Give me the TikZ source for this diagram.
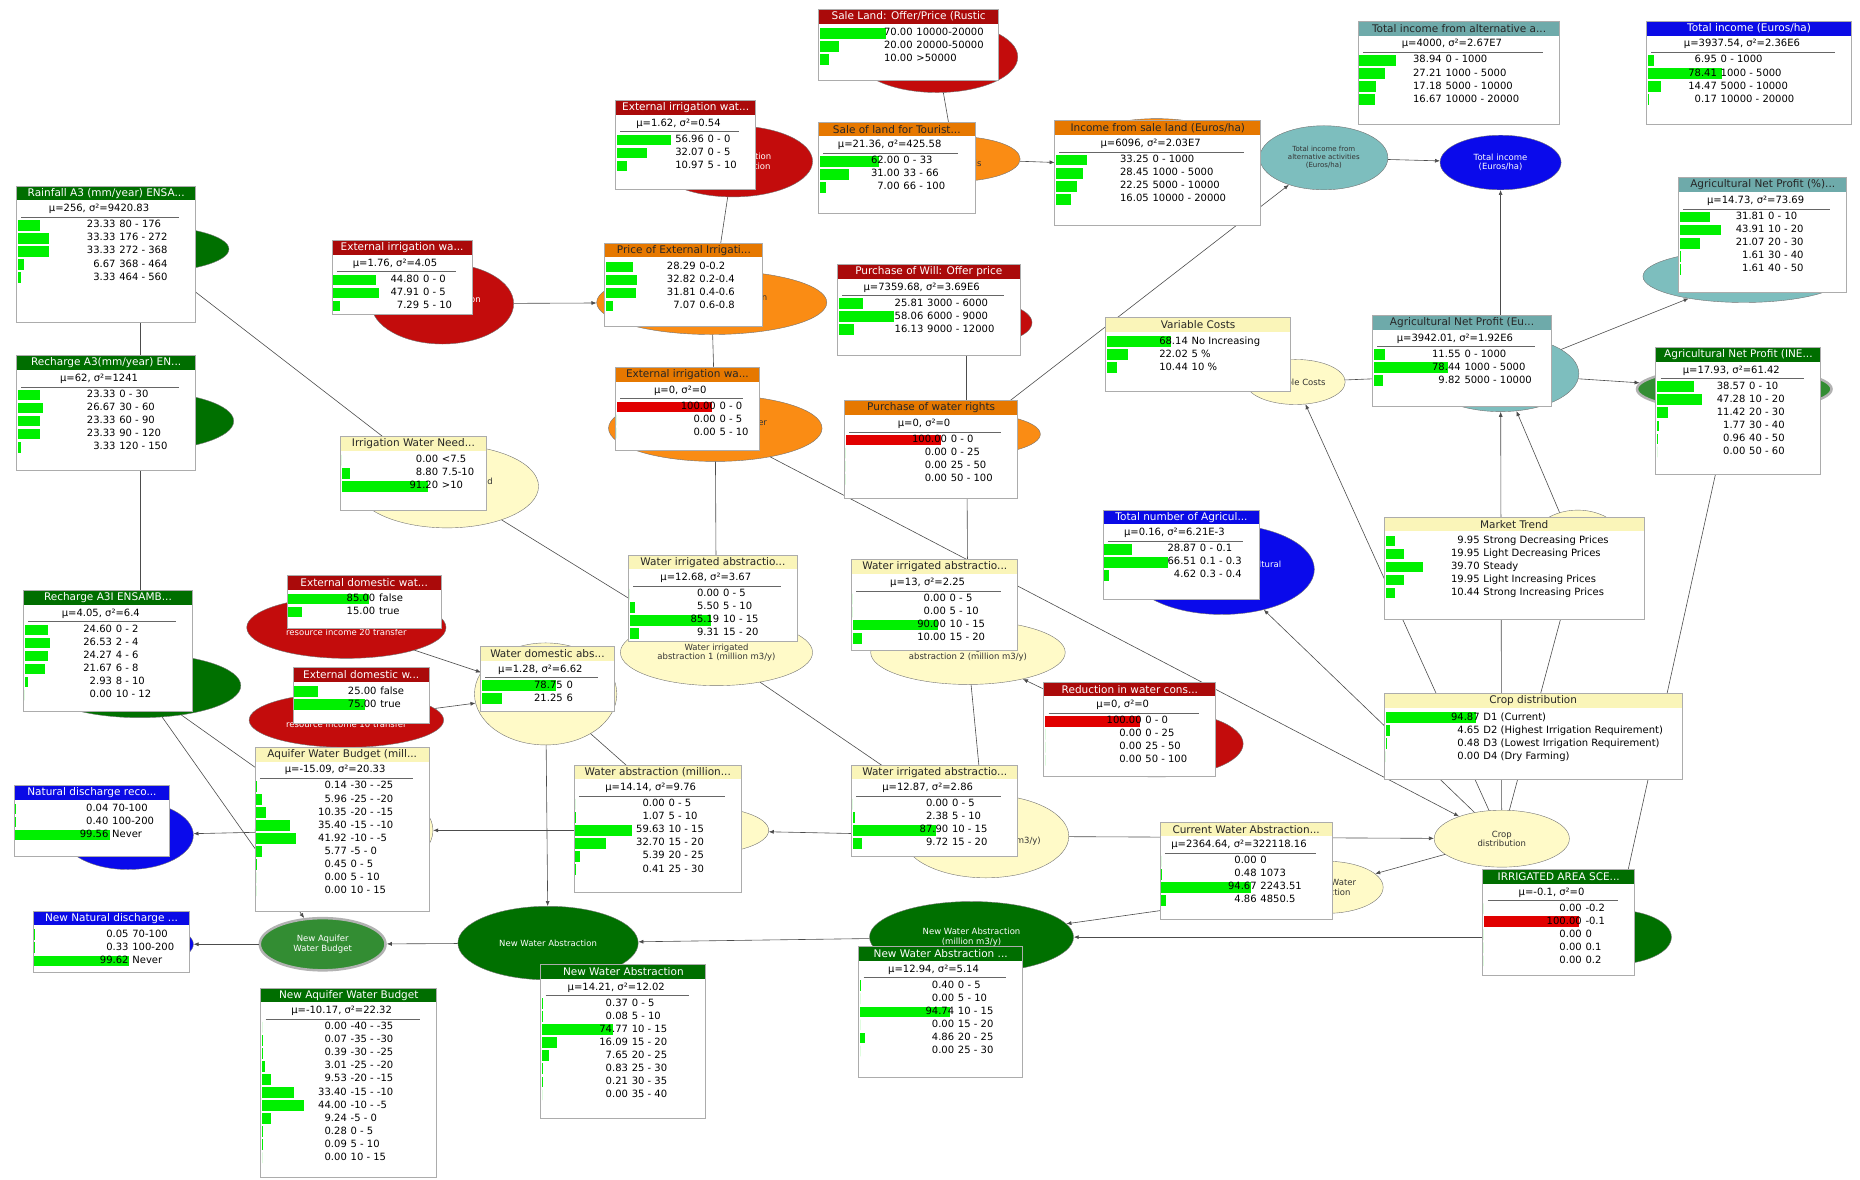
\documentclass[tikz,border=0pt]{standalone}
\usepackage{fontspec}
\setmainfont{DejaVu Sans}
\usetikzlibrary{shapes.geometric, arrows.meta}

\definecolor{nred}{RGB}{195,12,12}
\definecolor{norange}{RGB}{250,140,20}
\definecolor{nyellow}{RGB}{255,250,200}
\definecolor{nteal}{RGB}{125,190,190}
\definecolor{nblue}{RGB}{10,10,235}
\definecolor{ngreen}{RGB}{0,112,0}
\definecolor{tred}{RGB}{170,10,10}
\definecolor{torange}{RGB}{230,120,0}
\definecolor{tyellow}{RGB}{250,245,185}
\definecolor{tteal}{RGB}{110,170,170}
\definecolor{tblue}{RGB}{10,10,230}
\definecolor{tgreen}{RGB}{0,110,0}
\definecolor{bargreen}{RGB}{0,240,0}
\definecolor{barred}{RGB}{225,0,0}

\tikzset{
  redbar/.style={fill=tred}, redbar text/.style={text=white},
  orangebar/.style={fill=torange}, orangebar text/.style={text=black!85},
  yellowbar/.style={fill=tyellow}, yellowbar text/.style={text=black!85},
  tealbar/.style={fill=tteal}, tealbar text/.style={text=black!85},
  bluebar/.style={fill=tblue}, bluebar text/.style={text=white},
  greenbar/.style={fill=tgreen}, greenbar text/.style={text=white},
  monframe/.style={draw=gray!65, line width=1pt},
  montitle/.style={inner sep=0pt, font=\fontsize{10.5}{11}\selectfont},
  monval/.style={inner sep=0.5pt, text height=7pt, text depth=2pt,
    font=\fontsize{10}{11}\selectfont},
}

% monitor window: width, height, bar style, title
\newcommand{\monbox}[4]{%
  \fill[white] (0,0) rectangle (#1,#2);
  \fill[#3] (0,0) rectangle (#1,12);
  \draw[monframe] (0,0) rectangle (#1,#2);
  \node[montitle, #3 text] at (#1/2,6) {#4};
}
\newcommand{\monstat}[2]{%
  \node[monval] at (#1/2-6,19.5) {#2};
  \draw[black!60] (4,26) -- (#1-14,26);
}
% rows: first y, number column, value/label list
\newcommand{\monrows}[3]{%
  \foreach \v/\l [count=\i from 0] in {#3} {
    \fill[bargreen] (1,#1+11*\i-4.5) rectangle (1+0.8*\v,#1+11*\i+4.5);
    \node[monval, anchor=east] at (#2,#1+11*\i) {\v};
    \node[monval, anchor=west] at (#2+2,#1+11*\i) {\l};
  }%
}
\newcommand{\monred}[4]{%
  \fill[barred] (1,#1-4.5) rectangle (81,#1+4.5);
  \node[monval, anchor=east] at (#2,#1) {#3};
  \node[monval, anchor=west] at (#2+2,#1) {#4};
}

\begin{document}
\begin{tikzpicture}
  [x=1.186pt, y=-1.186pt,
   ell/.style={ellipse, draw=black!55, inner sep=0pt, align=center,
     font=\fontsize{8.5}{9.5}\selectfont},
   erx/.style={minimum width=#1*2.372pt},
   ery/.style={minimum height=#1*2.372pt},
   redell/.style={ell, fill=nred, text=white},
   orangeell/.style={ell, fill=norange, text=black!80},
   yellowell/.style={ell, fill=nyellow, text=black!80},
   tealell/.style={ell, fill=nteal, text=black!80},
   blueell/.style={ell, fill=nblue, text=white},
   greenell/.style={ell, fill=ngreen, text=white},
   ringell/.style={ell, fill=ngreen!80!white, text=white, draw=gray!60, line width=2.5pt},
   netlink/.style={draw=black!70, line width=0.6pt, -{Latex[length=5pt,width=4pt]}}]
  \useasboundingbox (0,0) rectangle (1568,994);

  % nodes
  \node[redell, erx=68, ery=30] (sale) at (790,48) {};
  \node[redell, erx=67, ery=30] (extup) at (618,136) {External irrigation\\water abstraction};
  \node[orangeell, erx=55, ery=19] (tour) at (805,134) {Sale of\\tourist lands};
  \node[orangeell, erx=86, ery=40] (inc) at (975,140) {};
  \node[tealell, erx=54, ery=27, font=\fontsize{7}{8}\selectfont] (totalt) at (1116,133) {Total income from\\alternative activities\\(Euros/ha)};
  \node[blueell, erx=51, ery=23] (total) at (1265,137) {Total income\\(Euros/ha)};
  \node[tealell, erx=85, ery=22] (agripct) at (1470,233) {};
  \node[tealell, erx=66, ery=32] (agrieu) at (1265,315) {};
  \node[ringell, erx=82, ery=18] (agrine) at (1462,328) {};
  \node[yellowell, erx=42, ery=19] (varcost) at (1092,322) {Variable Costs};
  \node[redell, erx=55, ery=20] (will) at (815,272) {};
  \node[orangeell, erx=97, ery=27] (price) at (600,255) {Price of External Irrigation\\water (Euros/m3)};
  \node[redell, erx=60, ery=34] (extleft) at (373,256) {External irrigation\\water UV};
  \node[orangeell, erx=90, ery=28] (extmid) at (603,361) {External irrigation water\\availability};
  \node[orangeell, erx=62, ery=18] (rights) at (815,366) {};
  \node[greenell, erx=75, ery=20] (rain) at (118,210) {};
  \node[greenell, erx=79, ery=25] (rech) at (118,355) {};
  \node[yellowell, erx=77, ery=35] (iwn) at (377,410) {Irrigation Water Need\\(m3/ha)};
  \node[greenell, erx=85, ery=27] (rech3i) at (118,578) {};
  \node[redell, erx=84, ery=26] (dom1) at (292,529) {External domestic water\\resource income 20 transfer};
  \node[redell, erx=82, ery=23] (dom2) at (292,607) {External domestic water\\resource income 10 transfer};
  \node[yellowell, erx=60, ery=43] (wdom) at (460,585) {};
  \node[yellowell, erx=81, ery=28] (wia1) at (604,550) {Water irrigated\\abstraction 1 (million m3/y)};
  \node[yellowell, erx=82, ery=27] (wia2) at (816,550) {Water irrigated\\abstraction 2 (million m3/y)};
  \node[blueell, erx=78, ery=38] (totnum) at (1030,480) {Total number of Agricultural\\Direct};
  \node[yellowell, erx=45, ery=38] (market) at (1330,468) {};
  \node[yellowell, erx=57, ery=24] (crop) at (1266,707) {Crop\\distribution};
  \node[redell, erx=73, ery=28] (reduc) at (975,627) {};
  \node[yellowell, erx=75, ery=40] (aquif) at (290,700) {};
  \node[blueell, erx=55, ery=29] (natdis) at (108,704) {};
  \node[yellowell, erx=58, ery=20] (wabs) at (590,700) {};
  \node[yellowell, erx=70, ery=35] (wia3) at (831,705) {Water irrigated\\abstraction (million m3/y)};
  \node[yellowell, erx=48, ery=22] (curwa) at (1118,748) {Current Water\\Abstraction};
  \node[greenell, erx=49, ery=23] (irr) at (1360,790) {};
  \node[blueell, erx=58, ery=20] (newnat) at (105,796) {};
  \node[ringell, erx=53, ery=22] (newaq) at (272,796) {New Aquifer\\Water Budget};
  \node[greenell, erx=76, ery=31] (nwa1) at (462,795) {New Water Abstraction};
  \node[greenell, erx=86, ery=30] (nwa2) at (819,790) {New Water Abstraction\\(million m3/y)};

  \foreach \from/\to in {rain/rech, rech/rech3i, rain/iwn, rech3i/aquif, rech3i/newaq,
      extleft/price, extup/price, price/extmid, extmid/wia1, extmid/crop, iwn/wia1,
      sale/tour, tour/inc, inc/totalt, rights/totalt, totalt/total, agrieu/total,
      agrieu/agripct, agrieu/agrine, varcost/agrieu, market/agrieu, crop/agrieu,
      crop/varcost, crop/totnum, crop/market, wia1/wia3, wia2/wia3, rights/wia2,
      will/rights, reduc/wia2, wia3/wabs, wia3/crop, crop/curwa, wdom/wabs, wdom/nwa1,
      dom1/wdom, dom2/wdom, wabs/aquif, aquif/natdis, nwa1/newaq, newaq/newnat,
      nwa2/nwa1, curwa/nwa2, irr/nwa2, irr/agrine}
    \draw[netlink] (\from) -- (\to);

  % monitor windows
  \begin{scope}[shift={(690,8)}]
    \monbox{152}{60}{redbar}{Sale Land: Offer/Price (Rustic}
    \monrows{20}{80}{70.00/10000-20000, 20.00/20000-50000, 10.00/>50000}
  \end{scope}
  \begin{scope}[shift={(519,85)}]
    \monbox{118}{75}{redbar}{External irrigation wat...}
    \monstat{118}{μ=1.62, σ²=0.54}
    \monrows{33}{75}{56.96/0 - 0, 32.07/0 - 5, 10.97/5 - 10}
  \end{scope}
  \begin{scope}[shift={(690,103)}]
    \monbox{132}{77}{orangebar}{Sale of land for Tourist...}
    \monstat{132}{μ=21.36, σ²=425.58}
    \monrows{33}{69}{62.00/0 - 33, 31.00/33 - 66, 7.00/66 - 100}
  \end{scope}
  \begin{scope}[shift={(889,102)}]
    \monbox{174}{88}{orangebar}{Income from sale land (Euros/ha)}
    \monstat{174}{μ=6096, σ²=2.03E7}
    \monrows{33}{80}{33.25/0 - 1000, 28.45/1000 - 5000, 22.25/5000 - 10000, 16.05/10000 - 20000}
  \end{scope}
  \begin{scope}[shift={(1145,18)}]
    \monbox{170}{87}{tealbar}{Total income from alternative a...}
    \monstat{170}{μ=4000, σ²=2.67E7}
    \monrows{33}{71}{38.94/0 - 1000, 27.21/1000 - 5000, 17.18/5000 - 10000, 16.67/10000 - 20000}
  \end{scope}
  \begin{scope}[shift={(1388,18)}]
    \monbox{173}{87}{bluebar}{Total income (Euros/ha)}
    \monstat{173}{μ=3937.54, σ²=2.36E6}
    \monrows{33}{60}{6.95/0 - 1000, 78.41/1000 - 5000, 14.47/5000 - 10000, 0.17/10000 - 20000}
  \end{scope}
  \begin{scope}[shift={(1415,150)}]
    \monbox{142}{97}{tealbar}{Agricultural Net Profit (\%)...}
    \monstat{142}{μ=14.73, σ²=73.69}
    \monrows{33}{73}{31.81/0 - 10, 43.91/10 - 20, 21.07/20 - 30, 1.61/30 - 40, 1.61/40 - 50}
  \end{scope}
  \begin{scope}[shift={(1157,266)}]
    \monbox{151}{77}{tealbar}{Agricultural Net Profit (Eu...}
    \monstat{151}{μ=3942.01, σ²=1.92E6}
    \monrows{33}{75}{11.55/0 - 1000, 78.44/1000 - 5000, 9.82/5000 - 10000}
  \end{scope}
  \begin{scope}[shift={(1396,293)}]
    \monbox{139}{107}{greenbar}{Agricultural Net Profit (INE...}
    \monstat{139}{μ=17.93, σ²=61.42}
    \monrows{33}{76}{38.57/0 - 10, 47.28/10 - 20, 11.42/20 - 30, 1.77/30 - 40, 0.96/40 - 50, 0.00/50 - 60}
  \end{scope}
  \begin{scope}[shift={(932,268)}]
    \monbox{156}{62}{yellowbar}{Variable Costs}
    \monrows{20}{70}{68.14/No Increasing, 22.02/5 \%, 10.44/10 \%}
  \end{scope}
  \begin{scope}[shift={(706,223)}]
    \monbox{154}{77}{redbar}{Purchase of Will: Offer price}
    \monstat{154}{μ=7359.68, σ²=3.69E6}
    \monrows{33}{73}{25.81/3000 - 6000, 58.06/6000 - 9000, 16.13/9000 - 12000}
  \end{scope}
  \begin{scope}[shift={(510,205)}]
    \monbox{133}{70}{orangebar}{Price of External Irrigati...}
    \monrows{20}{77}{28.29/0-0.2, 32.82/0.2-0.4, 31.81/0.4-0.6, 7.07/0.6-0.8}
  \end{scope}
  \begin{scope}[shift={(280,203)}]
    \monbox{118}{62}{redbar}{External irrigation wa...}
    \monstat{118}{μ=1.76, σ²=4.05}
    \monrows{33}{74}{44.80/0 - 0, 47.91/0 - 5, 7.29/5 - 10}
  \end{scope}
  \begin{scope}[shift={(519,310)}]
    \monbox{121}{70}{orangebar}{External irrigation wa...}
    \monstat{121}{μ=0, σ²=0}
    \monred{33}{85}{100.00}{0 - 0}
    \monrows{44}{85}{0.00/0 - 5, 0.00/5 - 10}
  \end{scope}
  \begin{scope}[shift={(712,338)}]
    \monbox{146}{82}{orangebar}{Purchase of water rights}
    \monstat{146}{μ=0, σ²=0}
    \monred{33}{87}{100.00}{0 - 0}
    \monrows{44}{87}{0.00/0 - 25, 0.00/25 - 50, 0.00/50 - 100}
  \end{scope}
  \begin{scope}[shift={(14,157)}]
    \monbox{151}{115}{greenbar}{Rainfall A3 (mm/year) ENSA...}
    \monstat{151}{μ=256, σ²=9420.83}
    \monrows{33}{84}{23.33/80 - 176, 33.33/176 - 272, 33.33/272 - 368, 6.67/368 - 464, 3.33/464 - 560}
  \end{scope}
  \begin{scope}[shift={(14,300)}]
    \monbox{151}{97}{greenbar}{Recharge A3(mm/year) EN...}
    \monstat{151}{μ=62, σ²=1241}
    \monrows{33}{84}{23.33/0 - 30, 26.67/30 - 60, 23.33/60 - 90, 23.33/90 - 120, 3.33/120 - 150}
  \end{scope}
  \begin{scope}[shift={(287,368)}]
    \monbox{123}{62}{yellowbar}{Irrigation Water Need...}
    \monrows{20}{83}{0.00/<7.5, 8.80/7.5-10, 91.20/>10}
  \end{scope}
  \begin{scope}[shift={(20,498)}]
    \monbox{142}{102}{greenbar}{Recharge A3I ENSAMB...}
    \monstat{142}{μ=4.05, σ²=6.4}
    \monrows{33}{75}{24.60/0 - 2, 26.53/2 - 4, 24.27/4 - 6, 21.67/6 - 8, 2.93/8 - 10, 0.00/10 - 12}
  \end{scope}
  \begin{scope}[shift={(242,485)}]
    \monbox{130}{45}{redbar}{External domestic wat...}
    \monrows{20}{75}{85.00/false, 15.00/true}
  \end{scope}
  \begin{scope}[shift={(247,563)}]
    \monbox{115}{47}{redbar}{External domestic w...}
    \monrows{20}{71}{25.00/false, 75.00/true}
  \end{scope}
  \begin{scope}[shift={(405,545)}]
    \monbox{113}{55}{yellowbar}{Water domestic abs...}
    \monstat{113}{μ=1.28, σ²=6.62}
    \monrows{33}{70}{78.75/0, 21.25/6}
  \end{scope}
  \begin{scope}[shift={(530,468)}]
    \monbox{142}{73}{yellowbar}{Water irrigated abstractio...}
    \monstat{142}{μ=12.68, σ²=3.67}
    \monrows{33}{77}{0.00/0 - 5, 5.50/5 - 10, 85.19/10 - 15, 9.31/15 - 20}
  \end{scope}
  \begin{scope}[shift={(718,472)}]
    \monbox{140}{76}{yellowbar}{Water irrigated abstractio...}
    \monstat{140}{μ=13, σ²=2.25}
    \monrows{33}{80}{0.00/0 - 5, 0.00/5 - 10, 90.00/10 - 15, 10.00/15 - 20}
  \end{scope}
  \begin{scope}[shift={(930,430)}]
    \monbox{132}{75}{bluebar}{Total number of Agricul...}
    \monstat{132}{μ=0.16, σ²=6.21E-3}
    \monrows{33}{79}{28.87/0 - 0.1, 66.51/0.1 - 0.3, 4.62/0.3 - 0.4}
  \end{scope}
  \begin{scope}[shift={(1167,436)}]
    \monbox{219}{86}{yellowbar}{Market Trend}
    \monrows{20}{81}{9.95/Strong Decreasing Prices, 19.95/Light Decreasing Prices, 39.70/Steady, 19.95/Light Increasing Prices, 10.44/Strong Increasing Prices}
  \end{scope}
  \begin{scope}[shift={(1167,585)}]
    \monbox{251}{72}{yellowbar}{Crop distribution}
    \monrows{20}{81}{94.87/D1 (Current), 4.65/D2 (Highest Irrigation Requirement), 0.48/D3 (Lowest Irrigation Requirement), 0.00/D4 (Dry Farming)}
  \end{scope}
  \begin{scope}[shift={(880,575)}]
    \monbox{145}{80}{redbar}{Reduction in water cons...}
    \monstat{145}{μ=0, σ²=0}
    \monred{33}{83}{100.00}{0 - 0}
    \monrows{44}{83}{0.00/0 - 25, 0.00/25 - 50, 0.00/50 - 100}
  \end{scope}
  \begin{scope}[shift={(215,630)}]
    \monbox{147}{138}{yellowbar}{Aquifer Water Budget (mill...}
    \monstat{147}{μ=-15.09, σ²=20.33}
    \monrows{33}{78}{0.14/-30 - -25, 5.96/-25 - -20, 10.35/-20 - -15, 35.40/-15 - -10, 41.92/-10 - -5, 5.77/-5 - 0, 0.45/0 - 5, 0.00/5 - 10, 0.00/10 - 15}
  \end{scope}
  \begin{scope}[shift={(12,662)}]
    \monbox{131}{60}{bluebar}{Natural discharge reco...}
    \monrows{20}{80}{0.04/70-100, 0.40/100-200, 99.56/Never}
  \end{scope}
  \begin{scope}[shift={(484,645)}]
    \monbox{141}{107}{yellowbar}{Water abstraction (million...}
    \monstat{141}{μ=14.14, σ²=9.76}
    \monrows{33}{77}{0.00/0 - 5, 1.07/5 - 10, 59.63/10 - 15, 32.70/15 - 20, 5.39/20 - 25, 0.41/25 - 30}
  \end{scope}
  \begin{scope}[shift={(718,645)}]
    \monbox{140}{77}{yellowbar}{Water irrigated abstractio...}
    \monstat{140}{μ=12.87, σ²=2.86}
    \monrows{33}{82}{0.00/0 - 5, 2.38/5 - 10, 87.90/10 - 15, 9.72/15 - 20}
  \end{scope}
  \begin{scope}[shift={(978,693)}]
    \monbox{145}{82}{yellowbar}{Current Water Abstraction...}
    \monstat{145}{μ=2364.64, σ²=322118.16}
    \monrows{33}{82}{0.00/0, 0.48/1073, 94.67/2243.51, 4.86/4850.5}
  \end{scope}
  \begin{scope}[shift={(1250,733)}]
    \monbox{128}{89}{greenbar}{IRRIGATED AREA SCE...}
    \monstat{128}{μ=-0.1, σ²=0}
    \monrows{33}{84}{0.00/-0.2}
    \monred{44}{84}{100.00}{-0.1}
    \monrows{55}{84}{0.00/0, 0.00/0.1, 0.00/0.2}
  \end{scope}
  \begin{scope}[shift={(28,768)}]
    \monbox{132}{52}{bluebar}{New Natural discharge ...}
    \monrows{20}{81}{0.05/70-100, 0.33/100-200, 99.62/Never}
  \end{scope}
  \begin{scope}[shift={(456,813)}]
    \monbox{139}{130}{greenbar}{New Water Abstraction}
    \monstat{139}{μ=14.21, σ²=12.02}
    \monrows{33}{74}{0.37/0 - 5, 0.08/5 - 10, 74.77/10 - 15, 16.09/15 - 20, 7.65/20 - 25, 0.83/25 - 30, 0.21/30 - 35, 0.00/35 - 40}
  \end{scope}
  \begin{scope}[shift={(724,798)}]
    \monbox{138}{110}{greenbar}{New Water Abstraction ...}
    \monstat{138}{μ=12.94, σ²=5.14}
    \monrows{33}{81}{0.40/0 - 5, 0.00/5 - 10, 94.74/10 - 15, 0.00/15 - 20, 4.86/20 - 25, 0.00/25 - 30}
  \end{scope}
  \begin{scope}[shift={(220,833)}]
    \monbox{148}{160}{greenbar}{New Aquifer Water Budget}
    \monstat{148}{μ=-10.17, σ²=22.32}
    \monrows{33}{73}{0.00/-40 - -35, 0.07/-35 - -30, 0.39/-30 - -25, 3.01/-25 - -20, 9.53/-20 - -15, 33.40/-15 - -10, 44.00/-10 - -5, 9.24/-5 - 0, 0.28/0 - 5, 0.09/5 - 10, 0.00/10 - 15}
  \end{scope}
\end{tikzpicture}
\end{document}
